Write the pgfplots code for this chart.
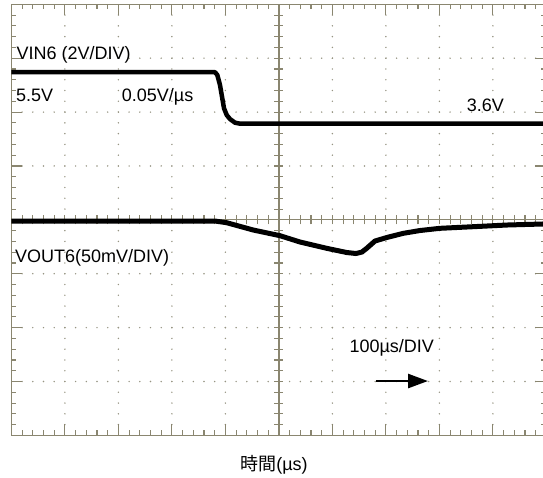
\documentclass[border=0pt]{standalone}
\usepackage{pgfplots}
\pgfplotsset{compat=1.18}
\usepackage{fontspec}
\setmainfont{Liberation Sans}
\newfontfamily\cjk{Noto Sans CJK JP}
\usetikzlibrary{arrows.meta}

\definecolor{scopeframe}{RGB}{138,134,112}
\definecolor{scopedot}{RGB}{150,148,130}

% one division = 53.5pt horizontally, 53.8875pt vertically
\begin{document}
\begin{tikzpicture}[txt/.style={anchor=base west, inner sep=0pt, font=\fontsize{18}{21}\selectfont}]
% graticule: dotted division lines, centre cross and frame
\begin{scope}[x=53.5pt, y=53.8875pt]
  \foreach \i in {1,2,3,4,6,7,8,9}
    \foreach \k in {1,...,39}
      \fill[scopedot] (\i,{\k/5}) circle[radius=0.8pt];
  \foreach \j in {1,2,3,5,6,7}
    \foreach \k in {1,...,49}
      \fill[scopedot] ({\k/5},\j) circle[radius=0.8pt];
  \draw[scopeframe, line width=1.3pt] (0,4) -- (10,4) (5,0) -- (5,8);
  \foreach \k in {1,...,49}
    \draw[scopeframe, line width=1.1pt] ({\k/5},4) ++(0,-4.5pt) -- ++(0,9pt);
  \foreach \k in {1,...,39}
    \draw[scopeframe, line width=1.1pt] (5,{\k/5}) ++(-4.5pt,0) -- ++(9pt,0);
  \draw[scopeframe, line width=1.5pt] (0,0) rectangle (10,8);
  \foreach \k in {1,...,49} {
    \draw[scopeframe, line width=1.1pt] ({\k/5},0) -- ++(0,5pt);
    \draw[scopeframe, line width=1.1pt] ({\k/5},8) -- ++(0,-5pt);
  }
  \foreach \k in {1,...,39} {
    \draw[scopeframe, line width=1.1pt] (0,{\k/5}) -- ++(5pt,0);
    \draw[scopeframe, line width=1.1pt] (10,{\k/5}) -- ++(-5pt,0);
  }
  \foreach \i in {1,...,9} {
    \draw[scopeframe, line width=1.1pt] (\i,0) -- ++(0,11pt);
    \draw[scopeframe, line width=1.1pt] (\i,8) -- ++(0,-11pt);
  }
  \foreach \j in {1,...,7} {
    \draw[scopeframe, line width=1.1pt] (0,\j) -- ++(11pt,0);
    \draw[scopeframe, line width=1.1pt] (10,\j) -- ++(-11pt,0);
  }
\end{scope}

\begin{axis}[
  scale only axis, width=535pt, height=431.1pt,
  xmin=0, xmax=10, ymin=0, ymax=8,
  axis line style={draw=none}, ticks=none,
]
% VIN6, 2 V/div
\addplot[black, line width=4.5pt, line join=round, line cap=butt] coordinates {
  (0,6.74) (3.806,6.74) (3.849,6.688) (3.899,6.502) (3.931,6.317)
  (3.974,6.070) (4.024,5.946) (4.086,5.871) (4.179,5.803) (4.273,5.785)
  (10,5.785)
};
% VOUT6, 50 mV/div
\addplot[black, line width=5pt, line join=round, line cap=butt] coordinates {
  (0,3.978) (3.806,3.978) (4.024,3.947) (4.522,3.811) (5.021,3.706)
  (5.394,3.589) (5.893,3.472) (6.267,3.394) (6.441,3.375) (6.553,3.403)
  (6.641,3.472) (6.796,3.607) (7.015,3.672) (7.325,3.750) (7.638,3.802)
  (8.011,3.843) (8.634,3.873) (9.258,3.904) (10,3.925)
};
\end{axis}

\begin{scope}[x=53.5pt, y=53.8875pt]
  \node[txt] at (0.095,6.979) {VIN6 (2V/DIV)};
  \node[txt] at (0.086,6.192) {5.5V};
  \node[txt] at (2.062,6.192) {0.05V/µs};
  \node[txt] at (8.510,6.007) {3.6V};
  \node[txt] at (0.067,3.205) {VOUT6(50mV/DIV)};
  \node[txt] at (6.316,1.535) {100µs/DIV};
  \draw[black, line width=2.6pt, -{Triangle[length=20pt, width=14pt]}] (6.815,1.009) -- (7.787,1.009);
  \node[anchor=base, inner sep=0pt, font=\fontsize{18}{21}\selectfont] at (4.908,-0.66) {{\cjk 時間}(µs)};
\end{scope}

\pgfresetboundingbox
\path (-11.4pt,-41.6pt) rectangle (531.6pt,435.4pt);
\end{tikzpicture}
\end{document}
